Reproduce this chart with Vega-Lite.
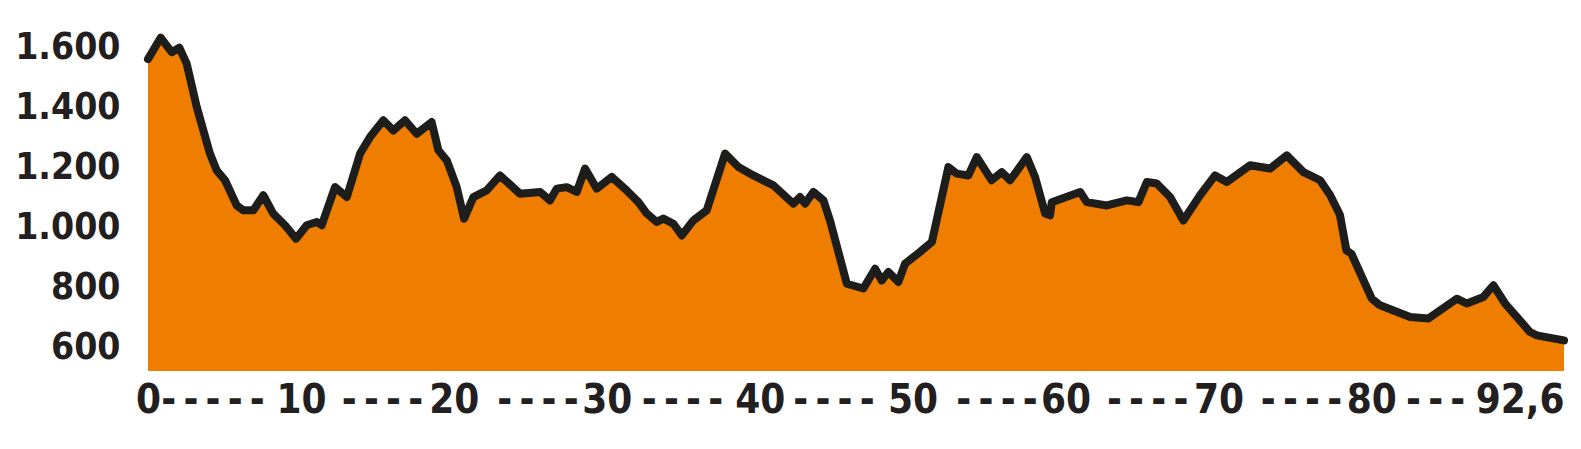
{
  "$schema": "https://vega.github.io/schema/vega-lite/v6.json",
  "width": 1416,
  "height": 371,
  "autosize": "none",
  "padding": {"left": 148, "top": 0, "right": 17, "bottom": 78},
  "background": "white",
  "config": {
    "view": {"stroke": null},
    "axis": {
      "grid": false,
      "domain": false,
      "ticks": false,
      "title": null,
      "labelFont": "DejaVu Sans Condensed, Liberation Sans Narrow, DejaVu Sans",
      "labelFontWeight": "bold",
      "labelColor": "#231f20"
    }
  },
  "data": {
    "values": [
      {"km": 0, "elev": 1560}, {"km": 0.83, "elev": 1631}, {"km": 1.55, "elev": 1583}, {"km": 2.05, "elev": 1598},
      {"km": 2.53, "elev": 1545}, {"km": 3.19, "elev": 1400}, {"km": 4.05, "elev": 1245}, {"km": 4.49, "elev": 1189},
      {"km": 5.04, "elev": 1156}, {"km": 5.8, "elev": 1072}, {"km": 6.23, "elev": 1056}, {"km": 6.89, "elev": 1056},
      {"km": 7.54, "elev": 1106}, {"km": 8.19, "elev": 1045}, {"km": 8.96, "elev": 1006}, {"km": 9.68, "elev": 961},
      {"km": 10.38, "elev": 1006}, {"km": 11.03, "elev": 1017}, {"km": 11.36, "elev": 1006}, {"km": 12.23, "elev": 1133},
      {"km": 13.0, "elev": 1100}, {"km": 13.87, "elev": 1245}, {"km": 14.52, "elev": 1300}, {"km": 15.39, "elev": 1356},
      {"km": 16.04, "elev": 1322}, {"km": 16.81, "elev": 1356}, {"km": 17.57, "elev": 1311}, {"km": 18.55, "elev": 1350},
      {"km": 18.99, "elev": 1256}, {"km": 19.54, "elev": 1222}, {"km": 20.19, "elev": 1133}, {"km": 20.67, "elev": 1028},
      {"km": 21.28, "elev": 1100}, {"km": 22.15, "elev": 1122}, {"km": 23.02, "elev": 1172}, {"km": 24.33, "elev": 1111},
      {"km": 25.64, "elev": 1117}, {"km": 26.29, "elev": 1089}, {"km": 26.73, "elev": 1128}, {"km": 27.38, "elev": 1133},
      {"km": 28.04, "elev": 1117}, {"km": 28.58, "elev": 1195}, {"km": 29.35, "elev": 1128}, {"km": 30.33, "elev": 1167},
      {"km": 31.31, "elev": 1122}, {"km": 32.07, "elev": 1083}, {"km": 32.62, "elev": 1045}, {"km": 33.27, "elev": 1017},
      {"km": 33.7, "elev": 1028}, {"km": 34.36, "elev": 1011}, {"km": 34.91, "elev": 972}, {"km": 35.66, "elev": 1022},
      {"km": 36.54, "elev": 1056}, {"km": 37.74, "elev": 1245}, {"km": 38.61, "elev": 1200}, {"km": 39.59, "elev": 1172},
      {"km": 40.9, "elev": 1139}, {"km": 42.2, "elev": 1078}, {"km": 42.64, "elev": 1100}, {"km": 42.97, "elev": 1078},
      {"km": 43.51, "elev": 1117}, {"km": 44.17, "elev": 1089}, {"km": 44.6, "elev": 1022}, {"km": 45.7, "elev": 811},
      {"km": 46.78, "elev": 795}, {"km": 47.55, "elev": 861}, {"km": 47.98, "elev": 822}, {"km": 48.42, "elev": 850},
      {"km": 49.07, "elev": 817}, {"km": 49.51, "elev": 878}, {"km": 50.49, "elev": 917}, {"km": 51.26, "elev": 950},
      {"km": 52.34, "elev": 1200}, {"km": 52.89, "elev": 1178}, {"km": 53.65, "elev": 1172}, {"km": 54.2, "elev": 1233},
      {"km": 55.17, "elev": 1156}, {"km": 55.83, "elev": 1183}, {"km": 56.38, "elev": 1156}, {"km": 57.47, "elev": 1233},
      {"km": 58.01, "elev": 1167}, {"km": 58.67, "elev": 1045}, {"km": 58.99, "elev": 1039}, {"km": 59.1, "elev": 1083},
      {"km": 60.96, "elev": 1117}, {"km": 61.39, "elev": 1083}, {"km": 62.7, "elev": 1072}, {"km": 64.01, "elev": 1089},
      {"km": 64.77, "elev": 1083}, {"km": 65.32, "elev": 1150}, {"km": 65.97, "elev": 1145}, {"km": 66.84, "elev": 1100},
      {"km": 67.71, "elev": 1022}, {"km": 68.8, "elev": 1106}, {"km": 69.78, "elev": 1172}, {"km": 70.55, "elev": 1150},
      {"km": 72.07, "elev": 1206}, {"km": 73.38, "elev": 1195}, {"km": 74.47, "elev": 1239}, {"km": 75.56, "elev": 1183},
      {"km": 76.65, "elev": 1156}, {"km": 77.31, "elev": 1106}, {"km": 77.95, "elev": 1040}, {"km": 78.37, "elev": 922},
      {"km": 78.7, "elev": 911}, {"km": 80.03, "elev": 761}, {"km": 80.57, "elev": 739}, {"km": 82.54, "elev": 700},
      {"km": 83.73, "elev": 695}, {"km": 85.59, "elev": 761}, {"km": 86.24, "elev": 745}, {"km": 87.33, "elev": 767},
      {"km": 87.98, "elev": 806}, {"km": 88.75, "elev": 745}, {"km": 90.38, "elev": 650}, {"km": 90.82, "elev": 639},
      {"km": 92.6, "elev": 622}
    ]
  },
  "encoding": {
    "x": {
      "field": "km",
      "type": "quantitative",
      "scale": {"domain": [0, 92.6], "nice": false, "zero": false},
      "axis": {
        "values": [0, 4.22, 10, 15.3, 20, 25.47, 30, 34.92, 40, 44.83, 50, 55.49, 60, 65.34, 70, 75.4, 80, 84.17, 92.6],
        "labelExpr": "datum.value == 92.6 ? '92,6' : (datum.value % 10 == 0 ? format(datum.value, 'd') : (datum.value < 10 ? '-\u2009-\u2009-\u2009-\u2009-' : (datum.value < 80 ? '-\u2009-\u2009-\u2009-' : '-\u2009-\u2009-')))",
        "labelFontSize": 40,
        "labelPadding": 9,
        "labelOverlap": false,
        "labelBound": false,
        "labelFlush": false,
        "labelAlign": {"condition": {"test": "datum.value > 90", "value": "right"}, "value": "center"}
      }
    },
    "y": {
      "field": "elev",
      "type": "quantitative",
      "scale": {"domain": [520, 1757], "nice": false, "zero": false},
      "axis": {
        "values": [600, 800, 1000, 1200, 1400, 1600],
        "labelExpr": "replace(format(datum.value, ','), ',', '.')",
        "labelFontSize": 37,
        "labelPadding": 28
      }
    }
  },
  "layer": [
    {"mark": {"type": "area", "color": "#EF7D00", "opacity": 1}, "encoding": {"y2": {"datum": 520}}},
    {"mark": {"type": "line", "color": "#1d1d1b", "strokeWidth": 8, "strokeJoin": "round", "strokeCap": "round"}}
  ]
}
